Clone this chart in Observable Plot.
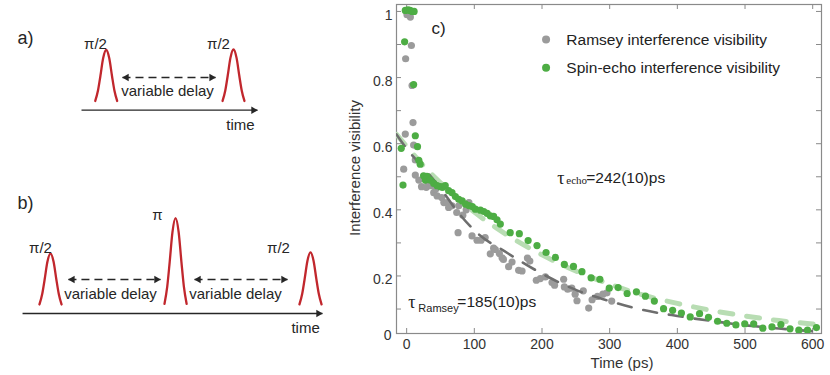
<!DOCTYPE html>
<html>
<head>
<meta charset="utf-8">
<script src="https://cdn.jsdelivr.net/npm/d3@7"></script>
<script src="https://cdn.jsdelivr.net/npm/@observablehq/plot@0.6"></script>
<style>
  body { margin: 0; background: #fff; }
  #fig { position: relative; width: 830px; height: 375px; overflow: hidden; background: #fff; }
  #fig > svg { position: absolute; }
</style>
</head>
<body>
<div id="fig"></div>
<script>
// ---------------- DATA: panel c ----------------
const ramseyTime = [0.5, 5.5, 7, -1.5, 8, 9.4, -2, 10.3, -4.4, 12.8, 12.8,
  18, 22, 29, 30, 35, 40, 43, 45, 52, 55, 60, 62, 67, 74, 77, 83, 88, 92,
  76, 96.6, 104, 110, 116, 123.6, 128.5, 131, 137, 141, 143, 150.7, 155.7, 165.5, 170.5, 178.5, 182,
  191.6, 197.5, 205, 214.8, 218.6, 232, 233, 238, 244, 249, 251.7, 261, 269, 274, 282, 290, 296, 303];
const ramseyVis = [0.99, 0.983, 0.897, 0.857, 0.776, 0.664, 0.629, 0.596, 0.523, 0.551, 0.505,
  0.49, 0.47, 0.468, 0.488, 0.473, 0.452, 0.463, 0.442, 0.437, 0.422, 0.422, 0.407, 0.412, 0.392, 0.412, 0.384, 0.40, 0.422,
  0.331, 0.321, 0.308, 0.308, 0.316, 0.267, 0.284, 0.28, 0.268, 0.255, 0.25, 0.228, 0.242, 0.217, 0.215, 0.254, 0.245,
  0.187, 0.192, 0.197, 0.18, 0.172, 0.19, 0.167, 0.16, 0.163, 0.145, 0.125, 0.155, 0.103, 0.128, 0.138, 0.145, 0.149, 0.124];

const echoTime = [-2, 2, 5, 8, 11, -3, 10.3, 12.8, 16, -8, 20, 18, -5.4,
  25, 27.6, 30, 35, 40, 45, 50, 53, 57, 62, 67, 72, 77, 82, 87, 92, 97, 101.5, 109, 114, 119, 123.6, 128.5, 133.5, 138.4,
  153, 166.5, 179.5, 192.6, 206, 219.8, 233, 246.5, 259, 272.7, 285.5, 299.4, 312.5, 325.8, 339.5, 352.8, 366,
  379.6, 393, 406, 419, 432.8, 446, 459.4, 473, 486.5, 499.6, 512.8, 526.3, 539.8, 553, 566.5, 579.5, 592.3, 605.5];
const echoVis = [1.003, 1.005, 1.003, 1.0, 1.0, 0.908, 0.779, 0.624, 0.591, 0.586, 0.538, 0.55, 0.475,
  0.503, 0.49, 0.501, 0.49, 0.48, 0.473, 0.47, 0.468, 0.473, 0.458, 0.452, 0.44, 0.432, 0.427, 0.417, 0.413, 0.41, 0.402, 0.399, 0.395, 0.389, 0.382, 0.38, 0.37, 0.357,
  0.331, 0.328, 0.307, 0.292, 0.271, 0.256, 0.235, 0.229, 0.213, 0.194, 0.19, 0.163, 0.165, 0.147, 0.152, 0.139, 0.124,
  0.101, 0.096, 0.088, 0.076, 0.086, 0.075, 0.063, 0.057, 0.052, 0.055, 0.055, 0.042, 0.046, 0.053, 0.04, 0.036, 0.036, 0.044];

// fitted curves
const ramseyFitTime = [-15, 0, 25, 50, 75, 100, 150, 200, 250, 300, 350, 400, 450, 500, 550, 600];
const ramseyFitVis  = [0.628, 0.585, 0.527, 0.465, 0.395, 0.338, 0.268, 0.207, 0.158, 0.124, 0.097, 0.079, 0.064, 0.051, 0.041, 0.033];
const echoFitTime = [-15, 0, 25, 50, 75, 100, 150, 200, 250, 300, 350, 400, 450, 500, 550, 600, 613];
const echoFitVis  = [0.628, 0.592, 0.533, 0.482, 0.435, 0.393, 0.322, 0.264, 0.215, 0.175, 0.142, 0.117, 0.096, 0.079, 0.065, 0.055, 0.052];

const xTicks = [0, 100, 200, 300, 400, 500, 600];
const yTicks = [0.1, 0.2, 0.3, 0.4, 0.5, 0.6, 0.7, 0.8, 0.9, 1.0];
const yLabelTicks = [0.2, 0.4, 0.6, 0.8, 1];
const legendLabels = ["Ramsey interference visibility", "Spin-echo interference visibility"];
const legendVis = [0.915, 0.83];

// ---------------- DATA: pulse diagrams ----------------
// shape of one pulse (offset in half-base-widths, relative height)
const pulseShapeOffset = [-1, -0.75, -0.53, -0.28, 0, 0.28, 0.53, 0.75, 1];
const pulseShapeHeight = [0.02, 0.22, 0.5, 0.84, 1, 0.84, 0.5, 0.22, 0.02];

const diagA = {
  panel: "a)", panelAt: [-0.634, 1.22], top: 0, height: 150,
  xRange: [105.7, 233], yRange: [101.5, 49.5], halfWidth: 0.086,
  pulseTime: [0, 1], pulseAmp: [1, 1.01],
  pulseLabel: ["π/2", "π/2"], labelTime: [-0.084, 0.882], labelAmp: [1.11, 1.11],
  axisFrom: -0.194, axisTo: 1.1885, axisLevel: -0.158,
  delayFrom: [0.128], delayTo: [0.859], delayLevel: 0.471,
  delayTextTime: [0.482], delayTextAmp: 0.2,
  timeAt: [1.055, -0.452]
};
const diagB = {
  panel: "b)", panelAt: [-0.192, 1.96], top: 150, height: 225,
  xRange: [50, 180], yRange: [155, 103], halfWidth: 0.085,
  pulseTime: [0, 0.962, 2.0], pulseAmp: [1, 1.68, 1.02],
  pulseLabel: ["π/2", "π", "π/2"], labelTime: [-0.077, 0.823, 1.754], labelAmp: [1.096, 1.73, 1.096],
  axisFrom: -0.215, axisTo: 2.092, axisLevel: -0.154,
  delayFrom: [0.138, 1.108], delayTo: [0.846, 1.823], delayLevel: 0.5,
  delayTextTime: [0.462, 1.423], delayTextAmp: 0.212,
  timeAt: [1.962, -0.442]
};

// ---------------- DRAWING ----------------
const sans = "'Liberation Sans', Arial, Helvetica, sans-serif";
const serif = "'Liberation Serif', 'Times New Roman', serif";
const ink = "#262626";
const red = "#c1272d";
const fig = document.getElementById("fig");

function diagram(s) {
  const pts = [];
  s.pulseTime.forEach((t, k) => pulseShapeOffset.forEach((o, i) =>
    pts.push({id: k, t: t + o * s.halfWidth, a: s.pulseAmp[k] * pulseShapeHeight[i]})));
  const arrows = s.delayFrom.map((f, i) => ({from: f, to: s.delayTo[i]}));
  const labels = s.pulseLabel.map((l, i) => ({l, t: s.labelTime[i], a: s.labelAmp[i]}));
  const svg = Plot.plot({
    width: 330, height: s.height, margin: 0,
    x: {domain: [0, 1], range: s.xRange, axis: null},
    y: {domain: [0, 1], range: s.yRange, axis: null},
    style: {fontFamily: sans, color: ink, background: "transparent", overflow: "visible"},
    marks: [
      Plot.line(pts, {x: "t", y: "a", z: "id", stroke: red, strokeWidth: 2.3, curve: "monotone-x"}),
      Plot.link([s], {x1: "axisFrom", x2: "axisTo", y1: "axisLevel", y2: "axisLevel", stroke: ink, strokeWidth: 1.3}),
      Plot.dot([s], {x: "axisTo", y: "axisLevel", symbol: "triangle", rotate: 90, r: 2.8, fill: ink, stroke: "none", dx: -4}),
      Plot.link(arrows, {x1: "from", x2: "to", y1: () => s.delayLevel, y2: () => s.delayLevel,
        stroke: ink, strokeWidth: 1.3, strokeDasharray: "8,5"}),
      Plot.dot(arrows, {x: "from", y: () => s.delayLevel, symbol: "triangle", rotate: -90, r: 2.8, fill: ink, stroke: "none", dx: 4}),
      Plot.dot(arrows, {x: "to", y: () => s.delayLevel, symbol: "triangle", rotate: 90, r: 2.8, fill: ink, stroke: "none", dx: -4}),
      Plot.text(s.delayTextTime, {x: d => d, y: () => s.delayTextAmp, text: () => "variable delay", fontSize: 15, fill: ink}),
      Plot.text(labels, {x: "t", y: "a", text: "l", fontSize: 15, fill: ink}),
      Plot.text(["time"], {x: () => s.timeAt[0], y: () => s.timeAt[1], fontSize: 15, fill: ink}),
      Plot.text([s.panel], {x: () => s.panelAt[0], y: () => s.panelAt[1], fontSize: 18, fill: ink})
    ]
  });
  svg.style.left = "0px";
  svg.style.top = s.top + "px";
  fig.appendChild(svg);
}
diagram(diagA);
diagram(diagB);

const frameW = 425, frameH = 329;
const frameColor = "#8a8a8a";
const greyC = "#9b9b9b", greenC = "#4dad44";
const idx = n => d3.range(n);

const main = Plot.plot({
  width: 500, height: 375,
  marginLeft: 66, marginRight: 9, marginTop: 4, marginBottom: 42,
  x: {domain: [-15, 613]},
  y: {domain: [0.026, 1.021]},
  style: {fontFamily: sans, fontSize: "14px", color: "#333", background: "transparent", overflow: "visible"},
  marks: [
    Plot.frame({stroke: frameColor, strokeWidth: 1.2}),
    Plot.tickX(xTicks, {x: d => d, stroke: frameColor, insetTop: frameH - 5}),
    Plot.tickX(xTicks, {x: d => d, stroke: frameColor, insetBottom: frameH - 5}),
    Plot.tickY(yTicks, {y: d => d, stroke: frameColor, insetRight: frameW - 5}),
    Plot.tickY(yTicks, {y: d => d, stroke: frameColor, insetLeft: frameW - 5}),
    Plot.axisX({ticks: xTicks, tickSize: 0, tickPadding: 6, tickFormat: d => String(d), label: null, fontSize: 14}),
    Plot.axisY({ticks: yLabelTicks, tickSize: 0, tickPadding: 4, dy: 4, tickFormat: d => String(d), label: null, fontSize: 14}),
    Plot.text(["0"], {frameAnchor: "bottom-left", textAnchor: "end", lineAnchor: "middle", dx: -5, dy: 2, fontSize: 14}),
    Plot.text(["Time (ps)"], {frameAnchor: "bottom", lineAnchor: "middle", textAnchor: "middle", dx: 13, dy: 30, fontSize: 15}),
    Plot.text(["Interference visibility"], {frameAnchor: "left", rotate: -90, textAnchor: "middle", lineAnchor: "middle", dx: -41, dy: -1, fontSize: 15}),

    Plot.dot(idx(ramseyTime.length), {x: i => ramseyTime[i], y: i => ramseyVis[i], r: 3.6, fill: greyC, clip: true}),
    Plot.line(idx(echoFitTime.length), {x: i => echoFitTime[i], y: i => echoFitVis[i], stroke: "#b8ddb3",
      strokeWidth: 5, strokeDasharray: "13,14", curve: "monotone-x", clip: true}),
    Plot.line(idx(ramseyFitTime.length), {x: i => ramseyFitTime[i], y: i => ramseyFitVis[i], stroke: "#6e6e6e",
      strokeWidth: 2.6, strokeDasharray: "14,12", curve: "monotone-x", clip: true}),
    Plot.dot(idx(echoTime.length), {x: i => echoTime[i], y: i => echoVis[i], r: 3.6, fill: greenC, clip: true}),

    // legend
    Plot.dot(idx(2), {x: () => 206, y: i => legendVis[i], r: 4, fill: i => [greyC, greenC][i]}),
    Plot.text(idx(2), {x: () => 236, y: i => legendVis[i], text: i => legendLabels[i], textAnchor: "start", fontSize: 15.5, fill: "#222"}),
    Plot.text(["c)"], {x: () => 47, y: () => 0.948, fontSize: 17, fill: "#222"}),

    // τ_echo label
    Plot.text(["τ"], {x: () => 222.6, y: () => 0.497, textAnchor: "start", fontFamily: serif, fontSize: 18, fill: "#222"}),
    Plot.text(["echo"], {x: () => 222.6, y: () => 0.497, textAnchor: "start", dx: 9, dy: 3, fontFamily: serif, fontSize: 11, fill: "#222"}),
    Plot.text(["=242(10)ps"], {x: () => 222.6, y: () => 0.497, textAnchor: "start", dx: 29, fontSize: 15.5, fill: "#222"}),
    // τ_Ramsey label
    Plot.text(["τ"], {x: () => 2.5, y: () => 0.121, textAnchor: "start", fontFamily: serif, fontSize: 18, fill: "#222"}),
    Plot.text(["Ramsey"], {x: () => 2.5, y: () => 0.121, textAnchor: "start", dx: 10, dy: 6, fontSize: 11, fill: "#222"}),
    Plot.text(["=185(10)ps"], {x: () => 2.5, y: () => 0.121, textAnchor: "start", dx: 49, fontSize: 15.5, fill: "#222"})
  ]
});
main.style.left = "330px";
main.style.top = "0px";
fig.appendChild(main);
</script>
</body>
</html>
